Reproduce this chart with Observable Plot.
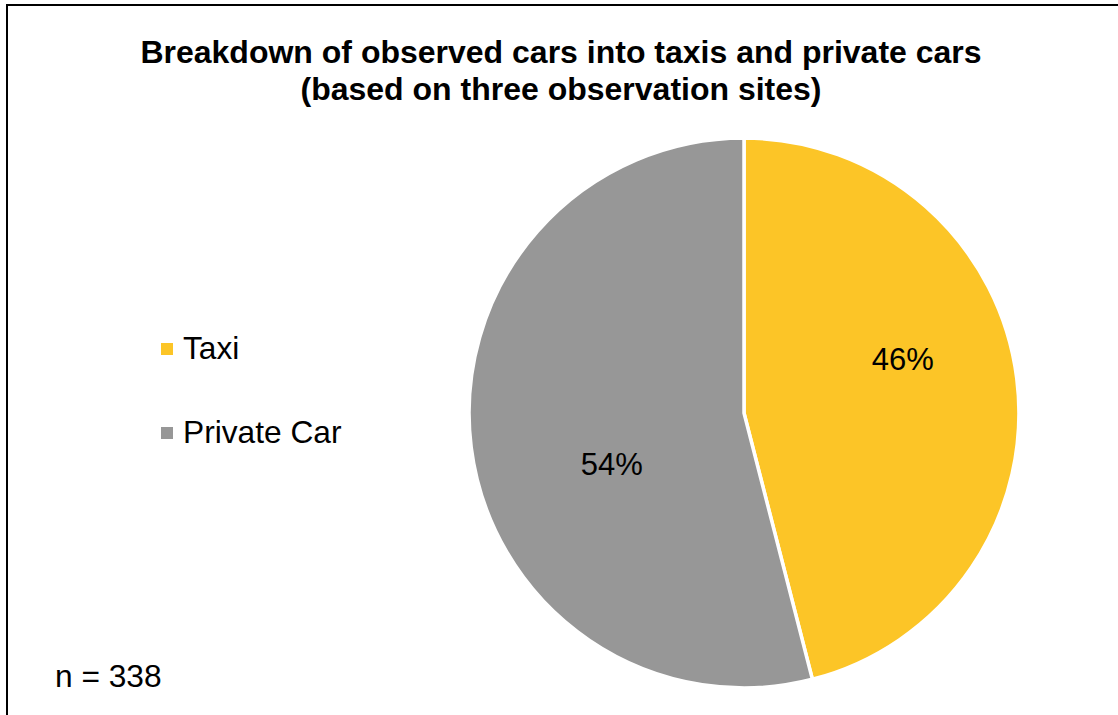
<!DOCTYPE html>
<html>
<head>
<meta charset="utf-8">
<script src="https://cdn.jsdelivr.net/npm/d3@7"></script>
<script src="https://cdn.jsdelivr.net/npm/@observablehq/plot@0.6"></script>
<style>
  html, body { margin: 0; padding: 0; background: #fff; }
  #page { position: relative; width: 1118px; height: 715px; overflow: hidden; font-family: "Liberation Sans", Arial, sans-serif; color: #000; }
  #frame { position: absolute; left: 6px; top: 4px; width: 2000px; height: 2000px; border: 2px solid #000; box-sizing: border-box; }
  #title { position: absolute; left: 0; width: 1122px; top: 34px; text-align: center; font-weight: bold; font-size: 32px; line-height: 37px; }
  .leg { position: absolute; left: 161px; font-size: 31.7px; line-height: 31px; white-space: nowrap; }
  .sw { position: absolute; left: 0; width: 12px; height: 12px; }
  .lt { position: absolute; left: 22px; top: 0; }
  #note { position: absolute; left: 55px; top: 661px; font-size: 31.7px; line-height: 31px; white-space: nowrap; }
  #chart { position: absolute; left: 463.5px; top: 132.5px; }
</style>
</head>
<body>
<div id="page">
  <div id="frame"></div>
  <div id="title"></div>
  <div id="legend"></div>
  <div id="note"></div>
  <div id="chart"></div>
</div>
<script>
const titleLines = ["Breakdown of observed cars into taxis and private cars", "(based on three observation sites)"];
const categories = ["Taxi", "Private Car"];
const shares = [46, 54];
const colors = ["#FCC527", "#979797"];
const sampleNote = "n = 338";

const data = categories.map((c, i) => ({category: c, value: shares[i], color: colors[i]}));

document.getElementById("title").innerHTML = titleLines.join("<br>");
document.getElementById("note").textContent = sampleNote;

const legendTops = [333, 417];
const legend = document.getElementById("legend");
data.forEach((d, i) => {
  const item = document.createElement("div");
  item.className = "leg";
  item.style.top = legendTops[i] + "px";
  const sw = document.createElement("div");
  sw.className = "sw";
  sw.style.background = d.color;
  sw.style.top = "10px";
  const lt = document.createElement("div");
  lt.className = "lt";
  lt.textContent = d.category;
  item.appendChild(sw);
  item.appendChild(lt);
  legend.appendChild(item);
});

const pie = d3.pie().value(d => d.value).sort(null)(data);
const R = 1; // unit radius in data space
const labelR = 0.6;
const labels = pie.map(p => {
  const a = (p.startAngle + p.endAngle) / 2;
  return {text: p.data.value + "%", x: labelR * R * Math.sin(a), y: labelR * R * Math.cos(a), category: p.data.category};
});

function pieMark(index, scales, values, dimensions) {
  const sx = scales.x, sy = scales.y;
  const cx = sx(0), cy = sy(0);
  const rpx = Math.abs(sx(R) - sx(0));
  const g = d3.create("svg:g").attr("transform", `translate(${cx},${cy})`);
  const arc = d3.arc().innerRadius(0).outerRadius(rpx + 1.5);
  g.selectAll("path").data(pie).join("path")
    .attr("d", arc)
    .attr("fill", d => d.data.color)
    .attr("stroke", "#fff")
    .attr("stroke-width", 3.5)
    .attr("stroke-linejoin", "round");
  return g.node();
}

const chart = Plot.plot({
  width: 560,
  height: 560,
  margin: 0,
  x: {domain: [-1.024, 1.024], axis: null},
  y: {domain: [-1.024, 1.024], axis: null},
  style: {background: "transparent", overflow: "visible"},
  marks: [
    pieMark,
    Plot.text(labels.filter(d => d.category === "Taxi"), {x: "x", y: "y", text: "text", fontSize: 31, fill: "#000", dx: -4.5, dy: -33, fontFamily: "Liberation Sans, Arial, sans-serif"}),
    Plot.text(labels.filter(d => d.category === "Private Car"), {x: "x", y: "y", text: "text", fontSize: 31, fill: "#000", dx: 30, dy: 31, fontFamily: "Liberation Sans, Arial, sans-serif"})
  ]
});
document.getElementById("chart").appendChild(chart);
</script>
</body>
</html>
